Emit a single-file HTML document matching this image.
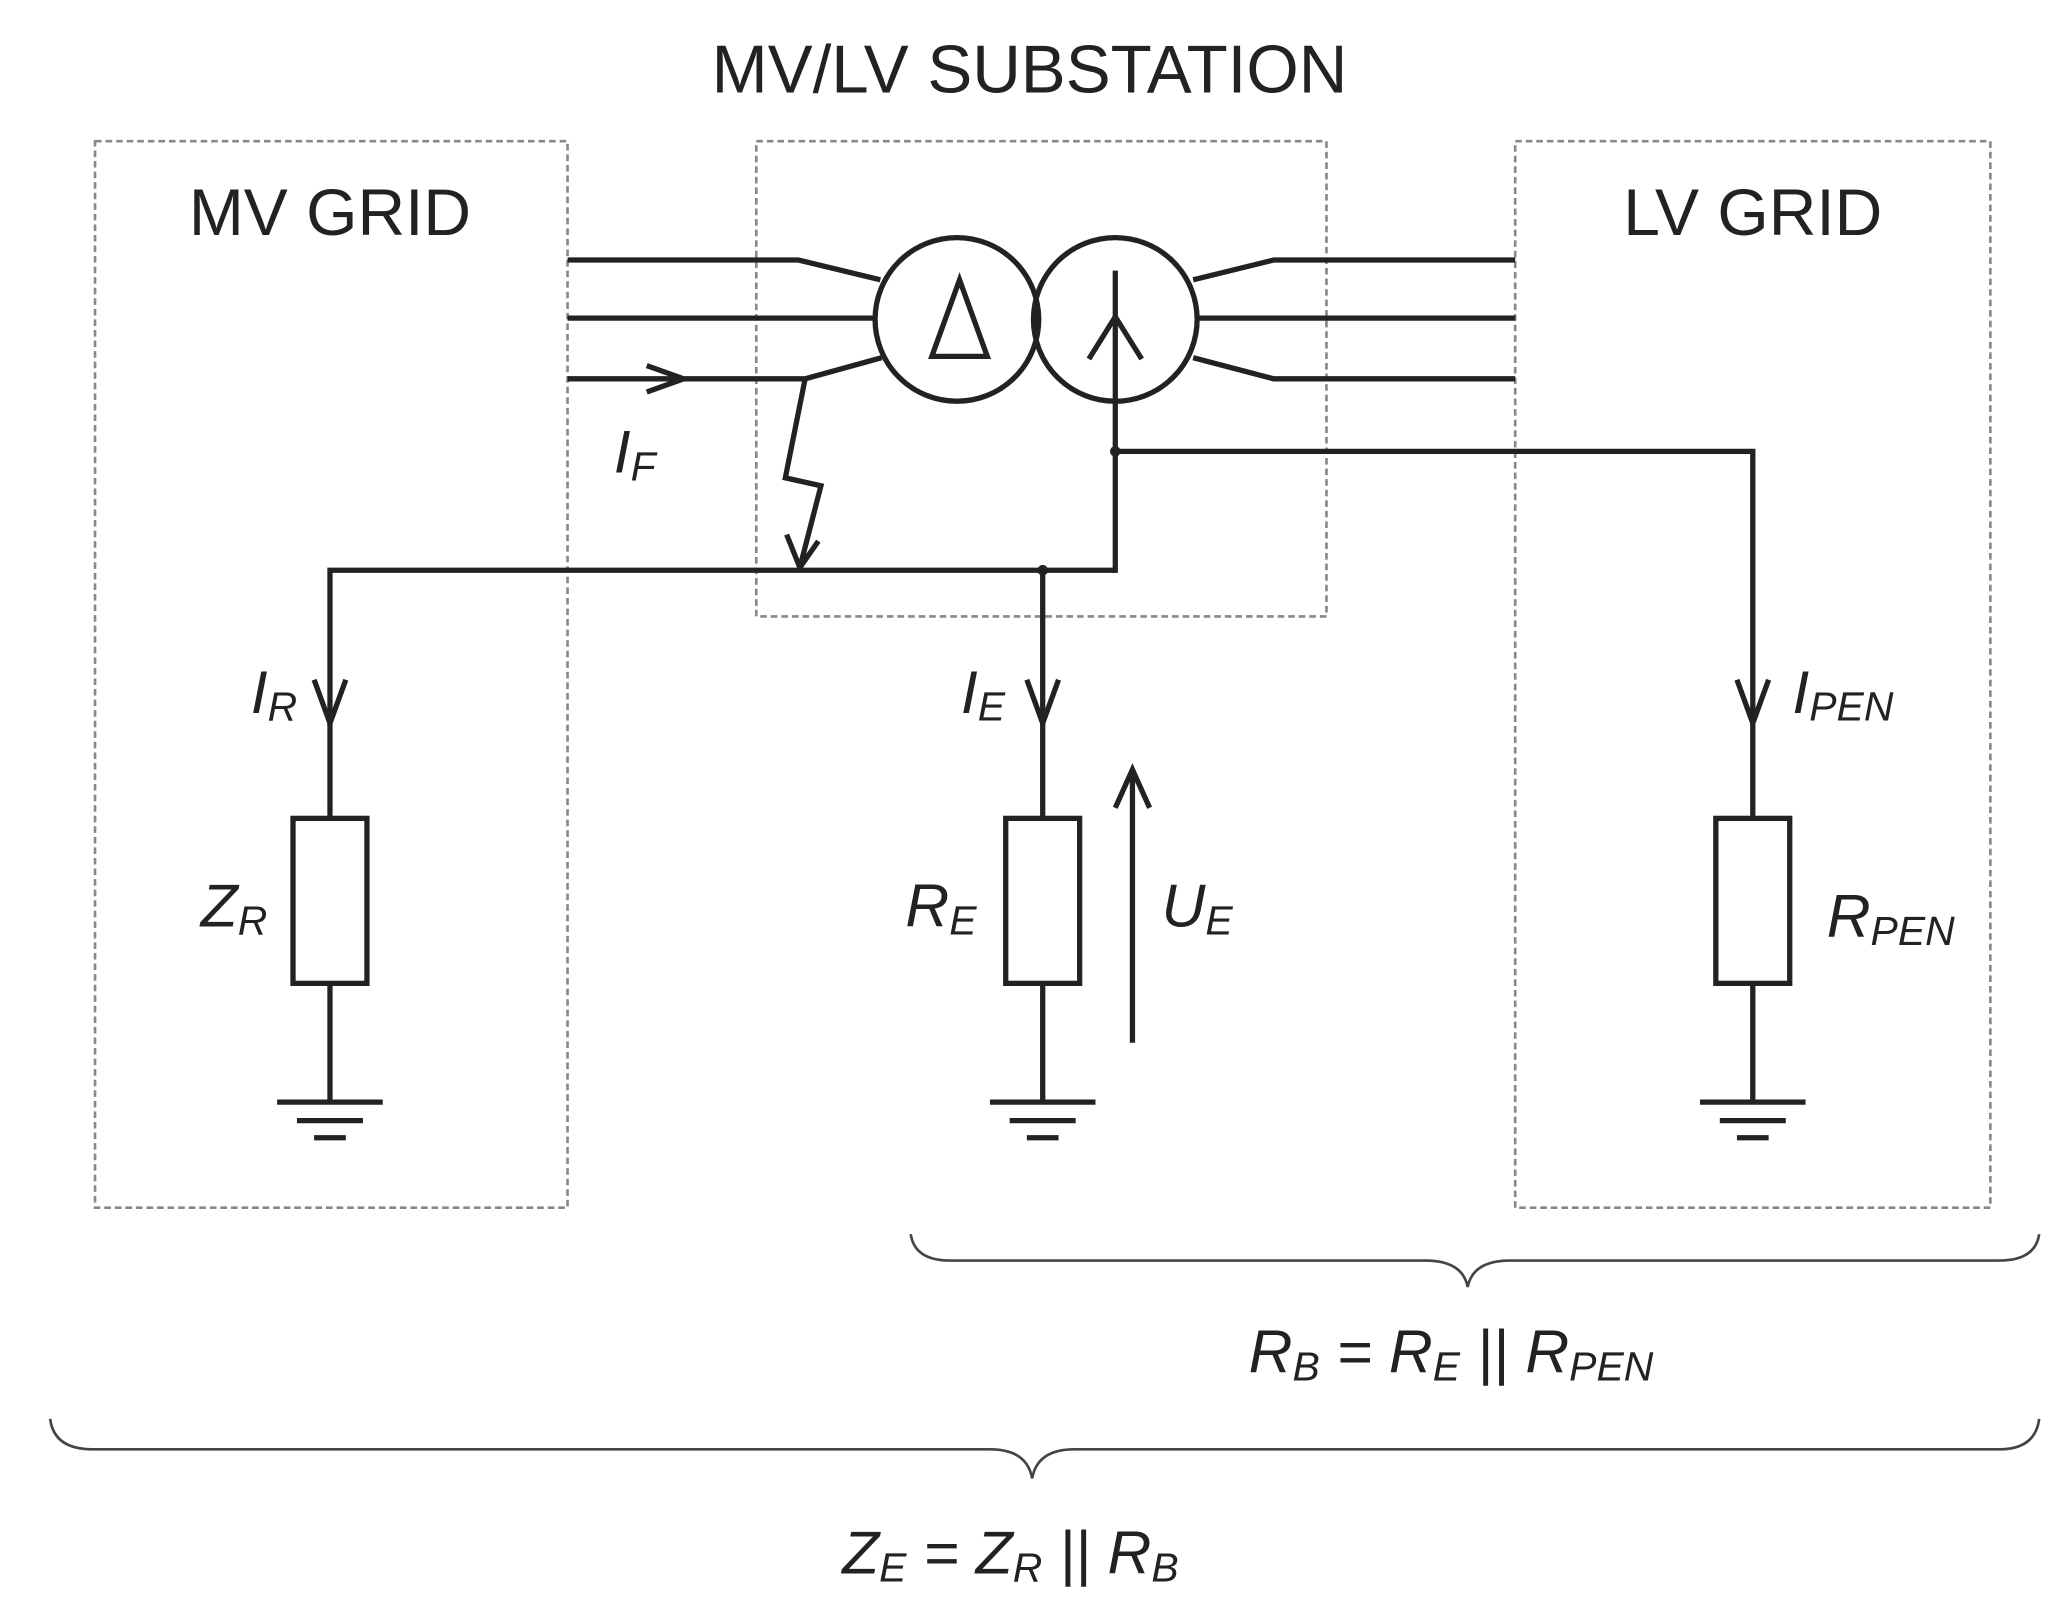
<!DOCTYPE html>
<html><head><meta charset="utf-8"><style>
html,body{margin:0;padding:0;background:#fff;}
svg{display:block;}
text{font-family:"Liberation Sans",Arial,sans-serif;fill:#222;}
.it{font-style:italic;}
</style></head><body>
<svg width="2059" height="1609" viewBox="0 0 1560 1219" preserveAspectRatio="none" xmlns="http://www.w3.org/2000/svg">
<g fill="none" stroke="#888" stroke-width="2" stroke-dasharray="5,3">
<rect x="72" y="107" width="358" height="808"/>
<rect x="573" y="107" width="432" height="360"/>
<rect x="1148" y="107" width="360" height="808"/>
</g>
<text x="780" y="70" font-size="51" text-anchor="middle">MV/LV SUBSTATION</text>
<text x="250" y="178" font-size="50" text-anchor="middle">MV GRID</text>
<text x="1328" y="178" font-size="50" text-anchor="middle">LV GRID</text>
<g fill="none" stroke="#222" stroke-width="4" stroke-linejoin="miter">
<circle cx="725" cy="242" r="62"/>
<circle cx="845" cy="242" r="62"/>
<polygon points="706,270 748,270 727,212"/>
<line x1="845" y1="205" x2="845" y2="434"/>
<line x1="845" y1="240" x2="825" y2="272"/>
<line x1="845" y1="240" x2="865" y2="272"/>
<polyline points="430,197 605,197 667,212"/>
<line x1="430" y1="241" x2="663" y2="241"/>
<polyline points="430,287 610,287 668,271"/>
<polyline points="1148,197 965,197 904,212"/>
<line x1="907" y1="241" x2="1148" y2="241"/>
<polyline points="1148,287 965,287 904,271"/>
<polyline points="490,277 518,287 490,297"/>
<polyline points="610,287 595,362 622,368 606,430"/>
<polyline points="596,405 606,430 620,410"/>
<polyline points="250,835 250,432 845,432"/>
<polyline points="845,342 1328,342 1328,835"/>
<line x1="790" y1="432" x2="790" y2="835"/>
<polyline points="238,515 250,548 262,515"/>
<polyline points="778,515 790,548 802,515"/>
<polyline points="1316,515 1328,548 1340,515"/>
<rect x="222" y="620" width="56" height="125" fill="#fff"/>
<rect x="762" y="620" width="56" height="125" fill="#fff"/>
<rect x="1300" y="620" width="56" height="125" fill="#fff"/>
<line x1="858" y1="790" x2="858" y2="588"/>
<polyline points="845,612 858,583 871,612"/>
<line x1="210" y1="835" x2="290" y2="835"/><line x1="225" y1="849" x2="275" y2="849"/><line x1="238" y1="862" x2="262" y2="862"/>
<line x1="750" y1="835" x2="830" y2="835"/><line x1="765" y1="849" x2="815" y2="849"/><line x1="778" y1="862" x2="802" y2="862"/>
<line x1="1288" y1="835" x2="1368" y2="835"/><line x1="1303" y1="849" x2="1353" y2="849"/><line x1="1316" y1="862" x2="1340" y2="862"/>
</g>
<circle cx="790" cy="432" r="4" fill="#222"/>
<circle cx="845" cy="342" r="4" fill="#222"/>
<g fill="none" stroke="#444" stroke-width="2">
<path d="M690,935 Q693,955 720,955 L1080,955 Q1108,955 1112,975 Q1116,955 1144,955 L1515,955 Q1542,955 1545,935"/>
<path d="M38,1075 Q41,1098 70,1098 L750,1098 Q778,1098 782,1120 Q786,1098 814,1098 L1515,1098 Q1542,1098 1545,1075"/>
</g>
<g class="it" font-size="46">
<text x="465" y="358" class="it">I<tspan font-size="31" dy="6">F</tspan></text>
<text x="190" y="540" class="it">I<tspan font-size="31" dy="6">R</tspan></text>
<text x="152" y="702" class="it">Z<tspan font-size="31" dy="6">R</tspan></text>
<text x="728" y="540" class="it">I<tspan font-size="31" dy="6">E</tspan></text>
<text x="686" y="702" class="it">R<tspan font-size="31" dy="6">E</tspan></text>
<text x="880" y="702" class="it">U<tspan font-size="31" dy="6">E</tspan></text>
<text x="1358" y="540" class="it">I<tspan font-size="31" dy="6">PEN</tspan></text>
<text x="1384" y="710" class="it">R<tspan font-size="31" dy="6">PEN</tspan></text>
<text x="946" y="1040" class="it">R<tspan font-size="31" dy="6">B</tspan><tspan dy="-6"> = R</tspan><tspan font-size="31" dy="6">E</tspan><tspan dy="-6"> || R</tspan><tspan font-size="31" dy="6">PEN</tspan></text>
<text x="638" y="1192" class="it">Z<tspan font-size="31" dy="6">E</tspan><tspan dy="-6"> = Z</tspan><tspan font-size="31" dy="6">R</tspan><tspan dy="-6"> || R</tspan><tspan font-size="31" dy="6">B</tspan></text>
</g>
</svg>
</body></html>
